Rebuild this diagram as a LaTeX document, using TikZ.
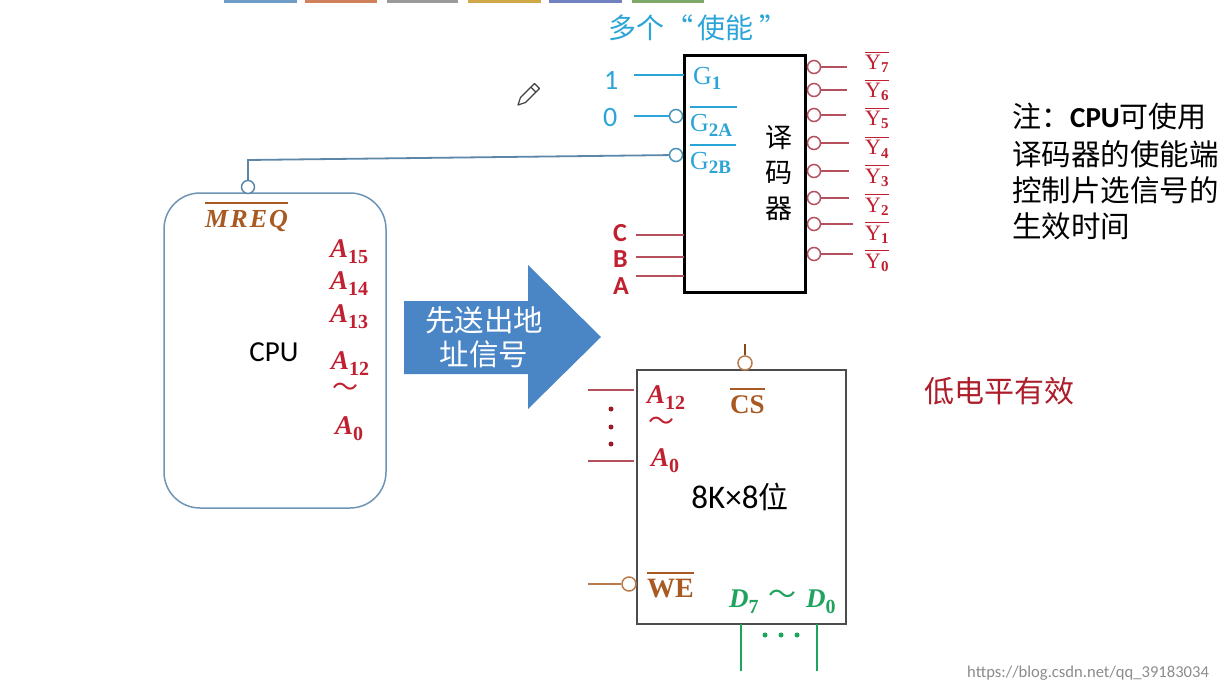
\documentclass[tikz,border=0pt]{standalone}
\usepackage{fontspec}
\setmainfont{Liberation Serif}
\newfontfamily\cjk{Noto Sans CJK SC}
\newfontfamily\clb{Carlito}
\newfontfamily\srf{Liberation Serif}
\newcommand\fs[1]{\fontsize{#1}{#1}\selectfont}
\newcommand\ovl[3]{\vbox{\hrule height #1\kern #2\hbox{#3}}}
\newcommand\symb[2]{{\srf\bfseries\itshape\fs{27}#1}{\srf\bfseries\fs{20}\raisebox{-6pt}{#2}}}
\newcommand\gsym[2]{{\srf\fs{26}#1}{\srf\bfseries\fs{19}\raisebox{-5pt}{#2}}}
\newcommand\ysym[1]{\ovl{1.5pt}{2.5pt}{{\srf\fs{22}Y}{\srf\bfseries\fs{15}\raisebox{-3pt}{#1}}}}
\definecolor{cblue}{HTML}{2BA5D8}
\definecolor{cred}{HTML}{C0202F}
\definecolor{cwire}{HTML}{B5505F}
\definecolor{cbrown}{HTML}{A85A22}
\definecolor{cgreen}{HTML}{1FA35F}
\definecolor{cframe}{HTML}{6F95B5}
\definecolor{cwirebl}{HTML}{5C87A8}
\definecolor{carrow}{HTML}{4A86C5}
\definecolor{st1}{HTML}{6E9BC8}
\definecolor{st2}{HTML}{D0805A}
\definecolor{st3}{HTML}{9A9A9A}
\definecolor{st4}{HTML}{D0A848}
\definecolor{st5}{HTML}{7080C0}
\definecolor{st6}{HTML}{80A868}
\tikzset{
  lab/.style={inner sep=0pt,anchor=base west},
  ctr/.style={inner sep=0pt,anchor=center},
  pin/.style={draw=#1,circle,fill=white,minimum size=13pt,inner sep=0pt,line width=1.5pt},
  wire/.style={draw=#1,line width=1.5pt},
  dotn/.style={circle,fill=#1,minimum size=5pt,inner sep=0pt},
  strip/.style={inner sep=0pt,minimum height=3pt,anchor=north west,fill=#1},
}
\begin{document}
\begin{tikzpicture}[x=1pt,y=-1pt]
\useasboundingbox (0,0) rectangle (1221,690);
\fill[white] (0,0) rectangle (1221,690);
% top strip
\node[strip=st1,minimum width=73pt] (s1) at (224,0) {};
\node[strip=st2,minimum width=72pt] (s2) at (305,0) {};
\node[strip=st3,minimum width=71pt] (s3) at (387,0) {};
\node[strip=st4,minimum width=73pt] (s4) at (468,0) {};
\node[strip=st5,minimum width=73pt] (s5) at (549,0) {};
\node[strip=st6,minimum width=72pt] (s6) at (632,0) {};
% title
\node[lab,text=cblue] (title) at (608,39) {\cjk\fs{28}多个\hspace{1pt}“\hspace{4pt}使能\hspace{6pt}”};
% decoder
\node[draw=black,line width=3pt,fill=white,minimum width=121pt,minimum height=236pt,inner sep=0pt] (dec) at (745,174) {};
\node[ctr,align=center,font=\cjk\fs{27}] (declab) at (779,173) {译\\[8.5pt]码\\[8.5pt]器};
% left decoder pins
\node[lab,text=cblue] (one) at (604,90) {\clb\fs{28}1};
\node[lab,text=cblue] (zero) at (603,127) {\clb\fs{28}0};
\coordinate (w1) at (634,75);
\coordinate (g1in) at (684,75);
\draw[wire=cblue] (w1) -- (g1in);
\node[pin=cwirebl!60!cblue] (pa) at (676,116) {};
\node[pin=cwirebl!60!cblue] (pb) at (676,155) {};
\coordinate (w2) at (634,116);
\draw[wire=cblue] (w2) -- (pa);
\node[lab,text=cblue] (G1) at (693,85) {\gsym{G}{1}};
\node[lab,text=cblue] (G2A) at (690,132) {\ovl{2pt}{7pt}{\gsym{G}{2A}\kern5pt}};
\node[lab,text=cblue] (G2B) at (690,169) {\ovl{2pt}{6pt}{\gsym{G}{2B}\kern5pt}};
% address pins
\node[lab,text=cred] (lc) at (613,241) {\clb\bfseries\fs{26}C};
\node[lab,text=cred] (lb) at (613,267) {\clb\bfseries\fs{26}B};
\node[lab,text=cred] (la) at (613,294) {\clb\bfseries\fs{26}A};
\coordinate (wc) at (636,235); \coordinate (ic) at (684,235);
\coordinate (wb) at (636,257); \coordinate (ib) at (684,257);
\coordinate (wa) at (636,276); \coordinate (ia) at (684,276);
\draw[wire=cwire] (wc) -- (ic);
\draw[wire=cwire] (wb) -- (ib);
\draw[wire=cwire] (wa) -- (ia);
% outputs
\foreach \n/\y/\e/\by in {7/67/847/70,6/90/847/98,5/115/846/126,4/143/849/155,3/171/849/183,2/198/849/212,1/224/853/240,0/254/853/268}{
  \node[pin=cwire] (y\n) at (814,\y) {};
  \coordinate (e\n) at (\e,\y);
  \draw[wire=cwire] (y\n) -- (e\n);
  \node[lab,text=cred] (Y\n) at (865,\by) {\ysym{\n}};
}
% CPU
\node[draw=cframe,line width=1.5pt,rounded corners=36pt,fill=white,minimum width=222pt,minimum height=315pt,inner sep=0pt] (cpu) at (275,350.5) {};
\node[ctr] (cpulab) at (274,352) {\clb\fs{29}CPU};
\node[pin=cwirebl] (mr) at (248,187) {};
\coordinate (t1) at (248,160);
\draw[draw=cwirebl,line width=1.8pt] (mr) -- (t1) -- (pb);
\node[lab,text=cbrown] (mreq) at (205,227) {\ovl{2pt}{6pt}{\srf\bfseries\itshape\fs{26}\addfontfeature{LetterSpace=8}MREQ}};
\node[lab,text=cred] (a15) at (330,257) {\symb{A}{15}};
\node[lab,text=cred] (a14) at (330,289) {\symb{A}{14}};
\node[lab,text=cred] (a13) at (330,322) {\symb{A}{13}};
\node[lab,text=cred] (a12) at (331,369) {\symb{A}{12}};
\node[ctr,text=cred] (til1) at (345,390) {\cjk\fs{26}～};
\node[lab,text=cred] (a0) at (335,434) {\symb{A}{0}};
% big arrow
\fill[carrow] (404,301) -- (528,301) -- (528,265) -- (601,337) -- (528,409) -- (528,374) -- (404,374) -- cycle;
\node[ctr,align=center,text=white,font=\cjk\fs{29.5}] (arrlab) at (484,337) {先送出地\\[4.5pt]址信号};
% memory
\node[draw=black!70,line width=2pt,fill=white,minimum width=209pt,minimum height=254pt,inner sep=0pt] (mem) at (741.5,497) {};
\node[pin=cbrown!80!white,minimum size=14pt] (cs) at (745,363) {};
\coordinate (cst) at (745,344);
\draw[wire=cbrown!80!black] (cs) -- (cst);
\node[lab,text=cbrown] (csl) at (730,413) {\ovl{2pt}{5pt}{\srf\bfseries\fs{27}CS}};
\coordinate (m12) at (588,390); \coordinate (m12e) at (634,390);
\coordinate (m0) at (588,461); \coordinate (m0e) at (634,461);
\draw[wire=cwire] (m12) -- (m12e);
\draw[wire=cwire] (m0) -- (m0e);
\node[dotn=cred!80!black] (d1) at (611,409) {};
\node[dotn=cred!80!black] (d2) at (611,427) {};
\node[dotn=cred!80!black] (d3) at (611,444) {};
\node[lab,text=cred] (ma12) at (647,403) {\symb{A}{12}};
\node[ctr,text=cred] (til2) at (661,424) {\cjk\fs{26}～};
\node[lab,text=cred] (ma0) at (651,466) {\symb{A}{0}};
\node[ctr] (size) at (740,497) {\clb\fs{33}8K×8{\cjk\fs{30}位}};
\node[pin=cbrown!80!white,minimum size=14pt] (we) at (629,584) {};
\coordinate (wew) at (588,584);
\draw[wire=cbrown!80!white] (wew) -- (we);
\node[lab,text=cbrown] (wel) at (647,597) {\ovl{2pt}{5pt}{\srf\bfseries\fs{28}WE}};
\node[lab,text=cgreen] (d7) at (729,607) {\symb{D}{7}};
\node[ctr,text=cgreen] (til3) at (782,597) {\cjk\fs{28}～};
\node[lab,text=cgreen] (d0) at (806,607) {\symb{D}{0}};
\coordinate (dt1) at (741,624); \coordinate (db1) at (741,671);
\coordinate (dt2) at (817,624); \coordinate (db2) at (817,671);
\draw[wire=cgreen] (dt1) -- (db1);
\draw[wire=cgreen] (dt2) -- (db2);
\node[dotn=cgreen] (g1) at (765,635) {};
\node[dotn=cgreen] (g2) at (781,635) {};
\node[dotn=cgreen] (g3) at (797,635) {};
% notes
\node[lab,text=cred!90!black] (low) at (924,402) {\cjk\fs{30}低电平有效};
\node[lab] (n1) at (1012,128) {\cjk\fs{29}注：\clb\bfseries\fs{29}CPU\cjk\mdseries\fs{29}可使用};
\node[lab] (n2) at (1012,165) {\cjk\fs{29.5}译码器的使能端};
\node[lab] (n3) at (1012,201) {\cjk\fs{29.5}控制片选信号的};
\node[lab] (n4) at (1012,237) {\cjk\fs{29.5}生效时间};
% pencil
\draw[black!75,line width=1.2pt,fill=white,line join=round] (518,105) -- (520.5,97.5) -- (534.5,83.5) -- (539.5,88.5) -- (525.5,102.5) -- cycle;
\draw[black!75,line width=1.2pt] (530.9,87.1) -- (535.9,92.1);
% watermark
\node[lab,text=black!45] (wm) at (967,677) {\clb\fs{16.6}https://blog.csdn.net/qq\_39183034};
\end{tikzpicture}
\end{document}
